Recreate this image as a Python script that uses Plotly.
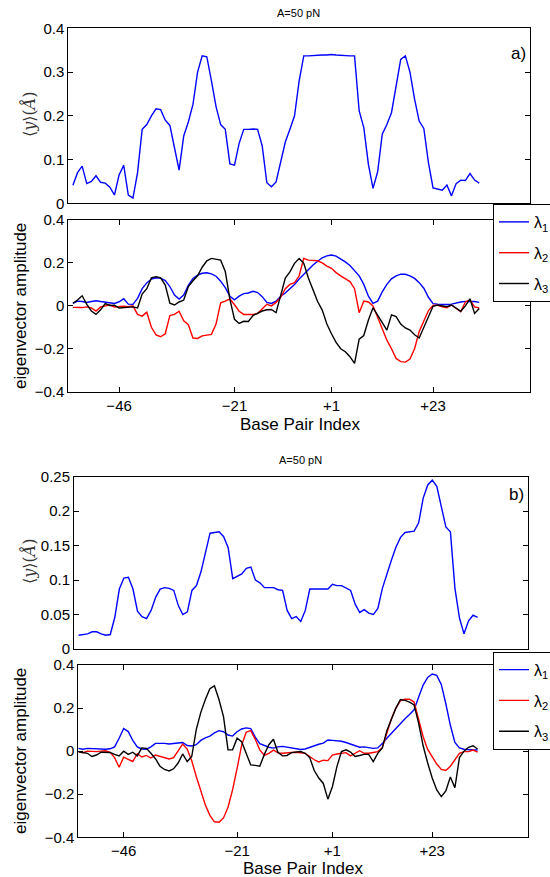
import plotly.graph_objects as go

# Base-pair positions (sequence index) and tick labels
idx = list(range(1, 90))
tick_pos = [11, 36, 57, 79]
tick_txt = ["\u221246", "\u221221", "+1", "+23"]

# ---- case a) ----
ya_mean = [0.041, 0.070, 0.085, 0.045, 0.050, 0.063, 0.048, 0.046, 0.037, 0.019,
           0.065, 0.087, 0.019, 0.012, 0.070, 0.169, 0.180, 0.200, 0.216, 0.214,
           0.190, 0.178, 0.127, 0.076, 0.154, 0.186, 0.226, 0.300, 0.337, 0.335,
           0.280, 0.221, 0.180, 0.169, 0.090, 0.087, 0.137, 0.169, 0.169, 0.170,
           0.169, 0.131, 0.047, 0.038, 0.049, 0.093, 0.140, 0.169, 0.200, 0.280,
           0.337, 0.337, 0.338, 0.338, 0.339, 0.339, 0.340, 0.339, 0.338, 0.338,
           0.337, 0.337, 0.211, 0.173, 0.089, 0.034, 0.072, 0.158, 0.180, 0.207,
           0.267, 0.329, 0.337, 0.300, 0.238, 0.188, 0.171, 0.093, 0.035, 0.032,
           0.030, 0.042, 0.017, 0.045, 0.053, 0.052, 0.068, 0.053, 0.046]

a_l1 = [0.012, 0.022, 0.020, 0.016, 0.020, 0.024, 0.020, 0.016, 0.014, 0.011,
        0.019, 0.033, 0.008, 0.007, 0.035, 0.080, 0.107, 0.125, 0.131, 0.129,
        0.118, 0.090, 0.050, 0.032, 0.050, 0.095, 0.128, 0.143, 0.152, 0.154,
        0.149, 0.138, 0.115, 0.085, 0.045, 0.028, 0.045, 0.057, 0.060, 0.068,
        0.062, 0.043, 0.016, 0.011, 0.022, 0.045, 0.060, 0.080, 0.100, 0.125,
        0.148, 0.170, 0.190, 0.208, 0.224, 0.233, 0.237, 0.232, 0.220, 0.205,
        0.188, 0.165, 0.140, 0.100, 0.045, 0.012, 0.022, 0.065, 0.100, 0.126,
        0.140, 0.148, 0.147, 0.140, 0.128, 0.108, 0.082, 0.040, 0.010, 0.008,
        0.006, 0.006, 0.008, 0.014, 0.018, 0.021, 0.022, 0.020, 0.016]

a_l2 = [-0.007, -0.008, -0.008, -0.005, -0.010, -0.024, -0.005, 0.000, 0.004, -0.005,
        -0.002, -0.002, -0.004, 0.000, -0.040, -0.048, -0.030, -0.100, -0.135, -0.144,
        -0.130, -0.045, -0.040, -0.025, -0.070, -0.088, -0.150, -0.152, -0.140, -0.137,
        -0.133, -0.085, 0.014, 0.022, 0.032, 0.005, -0.025, -0.040, -0.040, -0.040,
        -0.036, -0.015, 0.007, 0.000, 0.016, 0.040, 0.080, 0.100, 0.108, 0.140,
        0.221, 0.213, 0.212, 0.210, 0.200, 0.185, 0.175, 0.155, 0.140, 0.127,
        0.113, 0.080, -0.032, 0.022, 0.018, 0.000, -0.055, -0.110, -0.160, -0.200,
        -0.245, -0.260, -0.262, -0.248, -0.200, -0.120, -0.075, -0.022, 0.002, 0.003,
        -0.004, -0.009, 0.004, -0.010, -0.027, 0.018, 0.028, -0.005, -0.010]

a_l3 = [0.012, 0.027, 0.047, 0.007, -0.024, -0.040, -0.018, 0.011, 0.002, 0.003,
        -0.010, -0.008, -0.006, -0.005, -0.010, 0.055, 0.080, 0.130, 0.136, 0.130,
        0.097, 0.012, 0.004, 0.018, 0.027, 0.090, 0.117, 0.140, 0.180, 0.210,
        0.221, 0.216, 0.213, 0.160, 0.030, -0.063, -0.082, -0.072, -0.073, -0.045,
        -0.035, -0.024, -0.018, -0.017, -0.032, 0.050, 0.130, 0.158, 0.198, 0.221,
        0.198, 0.130, 0.075, 0.020, -0.020, -0.085, -0.130, -0.170, -0.200, -0.214,
        -0.237, -0.268, -0.155, -0.138, -0.066, -0.009, -0.043, -0.080, -0.113, -0.042,
        -0.050, -0.085, -0.103, -0.113, -0.135, -0.150, -0.100, -0.045, -0.002, 0.004,
        0.000, -0.004, 0.004, -0.012, -0.025, 0.000, 0.033, -0.035, -0.012]

# ---- case b) ----
yb_mean = [0.020, 0.021, 0.022, 0.025, 0.025, 0.022, 0.020, 0.021, 0.046, 0.087,
           0.103, 0.104, 0.087, 0.055, 0.047, 0.044, 0.056, 0.075, 0.087, 0.089,
           0.088, 0.085, 0.063, 0.050, 0.054, 0.085, 0.092, 0.112, 0.140, 0.168,
           0.169, 0.170, 0.163, 0.147, 0.102, 0.106, 0.109, 0.117, 0.119, 0.100,
           0.096, 0.089, 0.089, 0.089, 0.086, 0.085, 0.056, 0.044, 0.047, 0.040,
           0.056, 0.087, 0.087, 0.087, 0.088, 0.087, 0.094, 0.092, 0.092, 0.089,
           0.085, 0.065, 0.053, 0.057, 0.052, 0.050, 0.059, 0.088, 0.110, 0.129,
           0.148, 0.162, 0.169, 0.170, 0.171, 0.183, 0.219, 0.238, 0.245, 0.236,
           0.207, 0.177, 0.170, 0.088, 0.045, 0.022, 0.041, 0.049, 0.046]

b_l1 = [0.013, 0.009, 0.013, 0.012, 0.010, 0.009, 0.009, 0.011, 0.020, 0.060,
        0.105, 0.091, 0.050, 0.020, 0.010, 0.009, 0.020, 0.036, 0.037, 0.036,
        0.033, 0.035, 0.038, 0.040, 0.026, 0.024, 0.030, 0.050, 0.062, 0.070,
        0.085, 0.095, 0.090, 0.075, 0.070, 0.090, 0.103, 0.108, 0.105, 0.065,
        0.035, 0.025, 0.018, 0.014, 0.020, 0.022, 0.018, 0.015, 0.013, 0.008,
        0.010, 0.018, 0.025, 0.032, 0.037, 0.052, 0.050, 0.048, 0.046, 0.040,
        0.032, 0.025, 0.018, 0.020, 0.018, 0.013, 0.015, 0.035, 0.060, 0.083,
        0.105, 0.130, 0.150, 0.170, 0.192, 0.250, 0.307, 0.342, 0.358, 0.352,
        0.310, 0.220, 0.120, 0.040, 0.015, 0.009, 0.006, 0.005, 0.005]

b_l2 = [-0.002, -0.007, 0.000, -0.002, -0.002, 0.000, 0.002, -0.005, -0.030, -0.075,
        -0.028, -0.038, -0.048, -0.012, -0.027, -0.020, -0.032, -0.018, -0.023, -0.030,
        -0.036, -0.030, 0.000, 0.033, 0.010, -0.045, -0.118, -0.190, -0.250, -0.298,
        -0.328, -0.330, -0.310, -0.260, -0.180, -0.080, 0.028, 0.088, 0.095, 0.055,
        0.006, -0.020, -0.010, 0.005, -0.008, -0.010, -0.007, -0.006, -0.005, -0.007,
        -0.010, -0.025, -0.040, -0.050, -0.042, -0.044, -0.018, -0.013, -0.010, -0.007,
        -0.022, -0.008, 0.002, -0.010, -0.010, -0.006, -0.002, 0.016, 0.085, 0.150,
        0.200, 0.235, 0.241, 0.241, 0.228, 0.152, 0.067, 0.008, -0.028, -0.060,
        -0.085, -0.090, -0.070, -0.040, -0.010, -0.002, -0.002, 0.005, -0.005]

b_l3 = [-0.003, -0.007, -0.010, -0.025, -0.018, -0.005, -0.005, -0.006, -0.015, -0.022,
        0.000, -0.015, -0.005, -0.022, 0.015, 0.013, -0.010, -0.035, -0.070, -0.085,
        -0.092, -0.082, -0.055, -0.013, -0.048, -0.025, 0.100, 0.180, 0.240, 0.290,
        0.303, 0.240, 0.160, 0.006, 0.006, 0.060, 0.044, -0.015, -0.064, -0.066,
        -0.070, -0.015, 0.030, 0.055, -0.005, -0.022, -0.020, -0.007, -0.004, -0.002,
        -0.010, -0.030, -0.090, -0.125, -0.150, -0.223, -0.165, -0.072, -0.002, 0.006,
        -0.004, -0.025, -0.020, -0.015, -0.015, -0.049, -0.010, 0.015, 0.095, 0.145,
        0.200, 0.240, 0.236, 0.228, 0.215, 0.130, 0.025, -0.055, -0.125, -0.180,
        -0.211, -0.185, -0.120, -0.170, -0.030, 0.000, 0.018, 0.025, 0.010]

W, H = 550, 877
FONT = "Liberation Sans, Arial, DejaVu Sans, sans-serif"
BLUE, RED, BLACK = "#0000ff", "#ff0000", "#000000"
LW = 1.4


def px_x(p):
    return p / W


def px_y(p):
    return 1 - p / H


fig = go.Figure()

# top profiles
fig.add_trace(go.Scatter(x=idx, y=ya_mean, mode="lines", line=dict(color=BLUE, width=LW),
                         xaxis="x", yaxis="y", showlegend=False))
fig.add_trace(go.Scatter(x=idx, y=yb_mean, mode="lines", line=dict(color=BLUE, width=LW),
                         xaxis="x3", yaxis="y3", showlegend=False))

# eigenvector panels
for k, (vals, col) in enumerate([(a_l1, BLUE), (a_l2, RED), (a_l3, BLACK)]):
    fig.add_trace(go.Scatter(x=idx, y=vals, mode="lines", line=dict(color=col, width=LW),
                             name="\u03bb<sub>%d</sub>" % (k + 1), legendgroup="a%d" % k,
                             legend="legend", xaxis="x2", yaxis="y2"))
for k, (vals, col) in enumerate([(b_l1, BLUE), (b_l2, RED), (b_l3, BLACK)]):
    fig.add_trace(go.Scatter(x=idx, y=vals, mode="lines", line=dict(color=col, width=LW),
                             name="\u03bb<sub>%d</sub>" % (k + 1), legendgroup="b%d" % k,
                             legend="legend2", xaxis="x4", yaxis="y4"))

common = dict(showline=True, linecolor="black", linewidth=1, mirror="ticks",
              ticks="inside", ticklen=5, tickcolor="black", showgrid=False,
              zeroline=False, tickfont=dict(family=FONT, size=15, color="black"))

# pixel boxes: (left, right, top, bottom)
boxes = {
    1: (68.3, 530.0, 28.3, 203.3),
    2: (68.3, 530.0, 220.0, 391.7),
    3: (74.0, 527.5, 476.7, 649.0),
    4: (78.3, 527.5, 665.0, 837.3),
}
xr = {1: [0, 100], 2: [0, 100], 3: [0, 100], 4: [1, 100]}
eig_ticks = [-0.4, -0.2, 0, 0.2, 0.4]
eig_txt = ["\u22120.4", "\u22120.2", "0", "0.2", "0.4"]

layout = {}
for n, (l, r, t, b) in boxes.items():
    sx = "" if n == 1 else str(n)
    xa = dict(common, domain=[px_x(l), px_x(r)], range=xr[n], anchor="y" + sx)
    if n in (1, 3):
        xa.update(ticks="", showticklabels=False)
    else:
        xa.update(tickvals=tick_pos, ticktext=tick_txt)
    ya = dict(common, domain=[px_y(b), px_y(t)], anchor="x" + sx)
    if n == 1:
        ya.update(range=[0, 0.4], tickvals=[0, 0.1, 0.2, 0.3, 0.4],
                  ticktext=["0", "0.1", "0.2", "0.3", "0.4"])
    elif n == 3:
        ya.update(range=[0, 0.25], tickvals=[0, 0.05, 0.1, 0.15, 0.2, 0.25],
                  ticktext=["0", "0.05", "0.1", "0.15", "0.2", "0.25"])
    else:
        ya.update(range=[-0.4, 0.4], tickvals=eig_ticks, ticktext=eig_txt)
    layout["xaxis" + sx] = xa
    layout["yaxis" + sx] = ya

fig.update_layout(**layout)

leg = dict(bgcolor="white", bordercolor="black", borderwidth=1,
           font=dict(family=FONT, size=16, color="black"),
           xanchor="left", yanchor="top", tracegroupgap=7, itemwidth=30)
fig.update_layout(
    legend=dict(leg, x=px_x(493), y=px_y(204)),
    legend2=dict(leg, x=px_x(493), y=px_y(651.7)),
)

ann = []


def text(x, y, s, size, **kw):
    d = dict(x=px_x(x), y=px_y(y), xref="paper", yref="paper", text=s, showarrow=False,
             xanchor=kw.pop("xanchor", "center"), yanchor="middle",
             font=dict(family=kw.pop("family", FONT), size=size, color=kw.pop("color", "black")))
    d.update(kw)
    ann.append(d)


text(299, 13, "A=50 pN", 11)
text(300, 460, "A=50 pN", 11)

text(528, 53, "a)", 17, xanchor="right")
text(526, 494.5, "b)", 17, xanchor="right")

ylab = "\u27e8<i>y</i>\u27e9(<i>\u00c5</i>)"
text(29, 114, ylab, 16, textangle=-90, family="DejaVu Serif", color="#333333")
text(29, 561, ylab, 16, textangle=-90, family="DejaVu Serif", color="#333333")

text(20, 306, "eigenvector amplitude", 17, textangle=-90)
text(20, 751, "eigenvector amplitude", 17, textangle=-90)
text(300, 425, "Base Pair Index", 17)
text(303, 868, "Base Pair Index", 17)

fig.update_layout(
    annotations=ann,
    width=W, height=H,
    margin=dict(l=0, r=0, t=0, b=0, autoexpand=False),
    paper_bgcolor="white", plot_bgcolor="white",
)

fig.write_html("out.html")
